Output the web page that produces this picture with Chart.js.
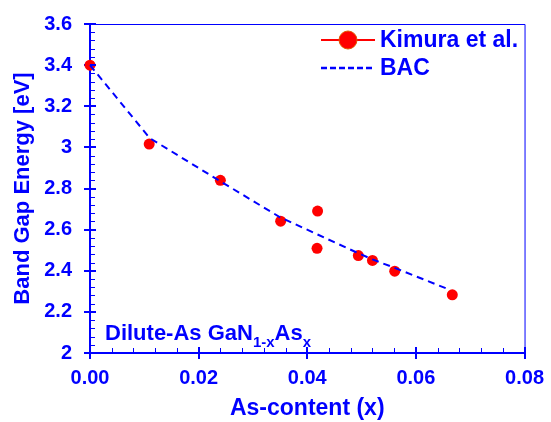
<!DOCTYPE html>
<html>
<head>
<meta charset="utf-8">
<script src="https://cdn.jsdelivr.net/npm/chart.js@4/dist/chart.umd.min.js"></script>
<style>
  html, body { margin: 0; padding: 0; background: #ffffff; }
  #wrap { width: 551px; height: 422px; }
</style>
</head>
<body>
<div id="wrap"><canvas id="c" width="551" height="422"></canvas></div>
<script>
// ---- data ----
const kimuraX = [0, 0.0109, 0.0240, 0.0351, 0.0419, 0.0418, 0.0494, 0.0520, 0.0561, 0.0667];
const kimuraY = [3.40, 3.016, 2.840, 2.641, 2.690, 2.509, 2.474, 2.450, 2.398, 2.283];
const bacX = [0, 0.011, 0.024, 0.035, 0.042, 0.049, 0.052, 0.056, 0.0655];
const bacY = [3.40, 3.045, 2.835, 2.660, 2.575, 2.490, 2.455, 2.415, 2.315];
const seriesNames = ['Kimura et al.', 'BAC'];
const xTicks = [0, 0.02, 0.04, 0.06, 0.08];
const xTickLabels = ['0.00', '0.02', '0.04', '0.06', '0.08'];
const yTicks = [2, 2.2, 2.4, 2.6, 2.8, 3, 3.2, 3.4, 3.6];
const yTickLabels = ['2', '2.2', '2.4', '2.6', '2.8', '3', '3.2', '3.4', '3.6'];
const xMinorStep = 0.004;
const yMinorStep = 0.04;
const xTitle = 'As-content (x)';
const yTitle = 'Band Gap Energy [eV]';

const BLUE = '#0000ff';
const RED = '#ff0000';
const FONT = '"Liberation Sans", Arial, sans-serif';

const framePlugin = {
  id: 'frame',
  afterDraw(chart) {
    const ctx = chart.ctx;
    const a = chart.chartArea;
    const xs = chart.scales.x, ys = chart.scales.y;
    ctx.save();
    // top & right border
    ctx.strokeStyle = BLUE;
    ctx.lineWidth = 1;
    ctx.beginPath();
    ctx.moveTo(a.left, a.top + 0.5);
    ctx.lineTo(a.right + 0.5, a.top + 0.5);
    ctx.lineTo(a.right + 0.5, a.bottom);
    ctx.stroke();
    // inner major ticks
    ctx.lineWidth = 2;
    ctx.beginPath();
    xTicks.forEach(v => {
      const px = Math.round(xs.getPixelForValue(v));
      ctx.moveTo(px, a.bottom);
      ctx.lineTo(px, a.bottom - 6);
    });
    yTicks.forEach(v => {
      const py = Math.round(ys.getPixelForValue(v));
      ctx.moveTo(a.left, py);
      ctx.lineTo(a.left + 6, py);
    });
    ctx.stroke();
    // minor ticks
    ctx.lineWidth = 1;
    ctx.beginPath();
    const nx = Math.round((xs.max - xs.min) / xMinorStep);
    for (let i = 1; i < nx; i++) {
      const v = xs.min + i * xMinorStep;
      const px = Math.round(xs.getPixelForValue(v)) + 0.5;
      ctx.moveTo(px, a.bottom);
      ctx.lineTo(px, a.bottom - 5);
    }
    const ny = Math.round((ys.max - ys.min) / yMinorStep);
    for (let i = 1; i < ny; i++) {
      const v = ys.min + i * yMinorStep;
      const py = Math.round(ys.getPixelForValue(v)) + 0.5;
      ctx.moveTo(a.left, py);
      ctx.lineTo(a.left + 5, py);
    }
    ctx.stroke();

    // legend
    const lx0 = a.left + 231, lx1 = a.left + 285, tx = a.left + 290;
    const r1 = a.top + 16, r2 = a.top + 44;
    ctx.strokeStyle = RED;
    ctx.lineWidth = 2;
    ctx.beginPath();
    ctx.moveTo(lx0, r1); ctx.lineTo(lx1, r1);
    ctx.stroke();
    ctx.beginPath();
    ctx.arc((lx0 + lx1) / 2, r1, 9, 0, Math.PI * 2);
    ctx.fillStyle = RED;
    ctx.fill();
    ctx.strokeStyle = '#e05a00';
    ctx.lineWidth = 1;
    ctx.stroke();
    ctx.strokeStyle = BLUE;
    ctx.lineWidth = 2.5;
    ctx.setLineDash([6, 3]);
    ctx.beginPath();
    ctx.moveTo(lx0, r2); ctx.lineTo(lx1, r2);
    ctx.stroke();
    ctx.setLineDash([]);
    ctx.fillStyle = BLUE;
    ctx.font = 'bold 23px ' + FONT;
    ctx.textBaseline = 'middle';
    ctx.textAlign = 'left';
    ctx.fillText(seriesNames[0], tx, r1 + 1);
    ctx.fillText(seriesNames[1], tx, r2 + 1);

    // annotation
    let x = a.left + 15;
    const base = a.bottom - 13;
    ctx.textBaseline = 'alphabetic';
    const parts = [
      ['Dilute-As GaN', 22, 0],
      ['1-x', 15, 7],
      ['As', 22, 0],
      ['x', 15, 7]
    ];
    parts.forEach(p => {
      ctx.font = 'bold ' + p[1] + 'px ' + FONT;
      ctx.fillText(p[0], x, base + p[2]);
      x += ctx.measureText(p[0]).width;
    });
    ctx.restore();
  }
};

new Chart(document.getElementById('c'), {
  type: 'scatter',
  data: {
    datasets: [
      {
        label: seriesNames[1],
        type: 'line',
        data: bacX.map((v, i) => ({ x: v, y: bacY[i] })),
        borderColor: BLUE,
        borderWidth: 2,
        borderDash: [7, 5],
        pointRadius: 0,
        fill: false,
        tension: 0,
        clip: false
      },
      {
        label: seriesNames[0],
        data: kimuraX.map((v, i) => ({ x: v, y: kimuraY[i] })),
        backgroundColor: RED,
        borderColor: RED,
        borderWidth: 0,
        pointRadius: 5.5,
        showLine: false,
        clip: false
      }
    ]
  },
  options: {
    responsive: false,
    animation: false,
    layout: { padding: { top: 20, right: 22, left: 0, bottom: 0 } },
    plugins: { legend: { display: false }, tooltip: { enabled: false } },
    scales: {
      x: {
        type: 'linear',
        min: 0, max: 0.08,
        afterBuildTicks: s => { s.ticks = xTicks.map(v => ({ value: v })); },
        afterFit: s => { s.height = 69; },
        ticks: {
          callback: (v, i) => xTickLabels[i],
          color: BLUE,
          font: { family: FONT, size: 20, weight: 'bold' },
          padding: 7,
          maxRotation: 0, autoSkip: false
        },
        grid: { drawOnChartArea: false, drawTicks: true, tickLength: 6, color: BLUE, lineWidth: 2 },
        border: { display: true, color: BLUE, width: 2 },
        title: {
          display: true, text: xTitle, color: BLUE,
          font: { family: FONT, size: 23, weight: 'bold' },
          padding: { top: 0, bottom: 0 }
        }
      },
      y: {
        type: 'linear',
        min: 2, max: 3.6,
        afterBuildTicks: s => { s.ticks = yTicks.map(v => ({ value: v })); },
        afterFit: s => { s.width = 90; },
        ticks: {
          callback: (v, i) => yTickLabels[i],
          color: BLUE,
          font: { family: FONT, size: 20, weight: 'bold' },
          padding: 12,
          autoSkip: false
        },
        grid: { drawOnChartArea: false, drawTicks: true, tickLength: 6, color: BLUE, lineWidth: 2 },
        border: { display: true, color: BLUE, width: 2 },
        title: {
          display: true, text: yTitle, color: BLUE,
          font: { family: FONT, size: 22, weight: 'bold' },
          padding: { top: 10, bottom: 0 }
        }
      }
    }
  },
  plugins: [framePlugin]
});
</script>
</body>
</html>
